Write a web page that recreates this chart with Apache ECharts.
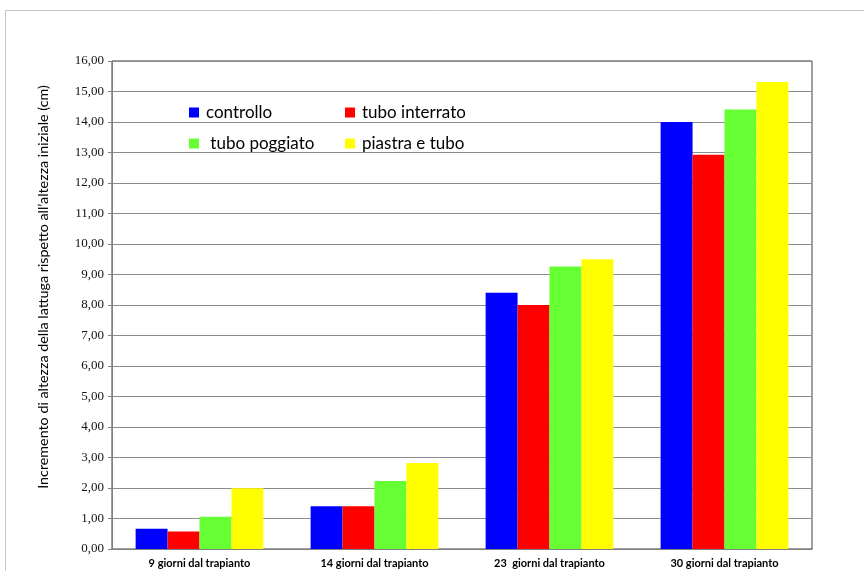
<!DOCTYPE html>
<html>
<head>
<meta charset="utf-8">
<script src="https://cdn.jsdelivr.net/npm/echarts@6/dist/echarts.min.js"></script>
<style>
  html, body { margin: 0; padding: 0; background: #ffffff; }
  #chart { width: 864px; height: 571px; }
</style>
</head>
<body>
<div id="chart"></div>
<script>
// Growth of lettuce height (cm) after transplant, by treatment
const categories = ['9 giorni dal trapianto', '14 giorni dal trapianto', '23  giorni dal trapianto', '30 giorni dal trapianto'];
const seriesNames = ['controllo', 'tubo interrato', ' tubo poggiato', 'piastra e tubo'];
const controllo = [0.66, 1.40, 8.40, 14.00];
const tuboInterrato = [0.57, 1.40, 8.00, 12.93];
const tuboPoggiato = [1.06, 2.23, 9.26, 14.41];
const piastraETubo = [1.99, 2.82, 9.50, 15.31];
const yTicks = { min: 0, max: 16, step: 1 };
const yTitle = 'Incremento di altezza della lattuga rispetto all\u2019altezza iniziale (cm)';

const colors = ['#0000ff', '#ff0000', '#66ff33', '#ffff00'];
const values = [controllo, tuboInterrato, tuboPoggiato, piastraETubo];
const FONT = 'Lato, "Open Sans", sans-serif';
const NUM_FONT = '"Liberation Serif", serif';

const chart = echarts.init(document.getElementById('chart'), null, { renderer: 'canvas' });

// one legend per entry, laid out as a 2x2 block inside the plot
const legendPos = [
  { left: 189, top: 104 },
  { left: 345, top: 104 },
  { left: 189, top: 135 },
  { left: 345, top: 135 }
];

chart.setOption({
  animation: false,
  backgroundColor: '#ffffff',
  color: colors,
  graphic: [{
    type: 'rect',
    shape: { x: 5.5, y: 10.5, width: 900, height: 600 },
    style: { fill: 'none', stroke: '#c6c6c6', lineWidth: 1 },
    silent: true,
    z: -1
  }, {
    type: 'text',
    x: 43,
    y: 287,
    rotation: Math.PI / 2,
    silent: true,
    style: {
      text: yTitle,
      fontFamily: FONT,
      fontSize: 14.3,
      fill: '#000000',
      align: 'center',
      verticalAlign: 'middle'
    }
  }],
  legend: seriesNames.map((name, i) => ({
    data: [name],
    left: legendPos[i].left,
    top: legendPos[i].top,
    icon: 'rect',
    itemWidth: 10,
    itemHeight: 10,
    itemGap: 0,
    padding: 0,
    selectedMode: false,
    textStyle: { fontFamily: FONT, fontSize: 17, color: '#000000', padding: [0, 0, 0, 2] }
  })),
  grid: {
    left: 112, right: 52, top: 61, bottom: 22,
    show: true,
    borderColor: '#404040',
    borderWidth: 1,
    containLabel: false
  },
  xAxis: {
    type: 'category',
    data: categories,
    axisLine: { show: true, lineStyle: { color: '#808080' } },
    axisTick: { show: false },
    axisLabel: { fontFamily: FONT, fontSize: 11, fontWeight: 'bold', color: '#000000', margin: 9 }
  },
  yAxis: {
    type: 'value',
    min: yTicks.min,
    max: yTicks.max,
    interval: yTicks.step,
    axisLine: { show: true, lineStyle: { color: '#808080' } },
    axisTick: { show: true, length: 4, lineStyle: { color: '#808080' } },
    splitLine: { show: true, lineStyle: { color: '#8c8c8c', width: 1 } },
    axisLabel: {
      fontFamily: NUM_FONT, fontSize: 13, color: '#111111', margin: 8,
      formatter: v => v.toFixed(2).replace('.', ',')
    }
  },
  series: seriesNames.map((name, i) => ({
    name: name,
    type: 'bar',
    data: values[i],
    barGap: '0%',
    barCategoryGap: '27%',
    itemStyle: { color: colors[i] }
  }))
});
</script>
</body>
</html>
